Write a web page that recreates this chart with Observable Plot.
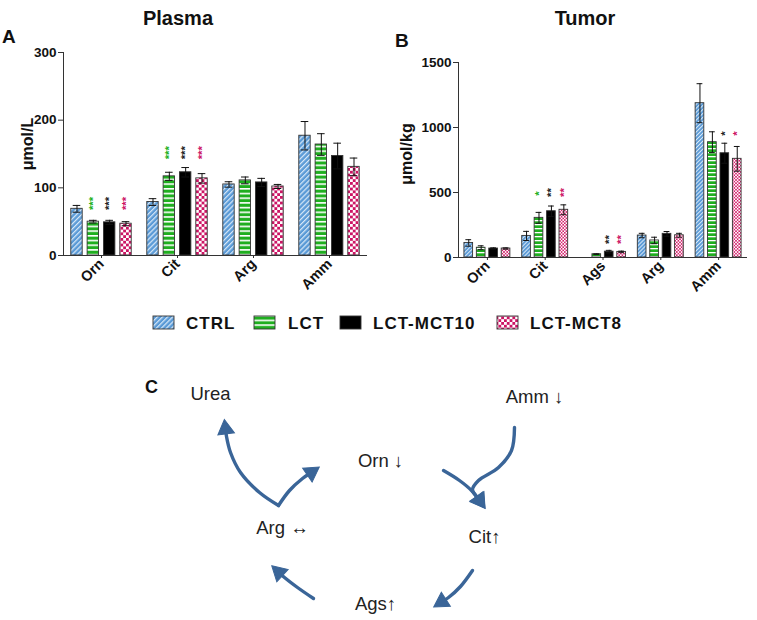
<!DOCTYPE html>
<html>
<head>
<meta charset="utf-8">
<script src="https://cdn.jsdelivr.net/npm/d3@7"></script>
<script src="https://cdn.jsdelivr.net/npm/@observablehq/plot@0.6"></script>
<style>
  body { margin: 0; background: #fff; }
  #fig { position: relative; width: 757px; height: 620px; background: #fff; font-family: 'Liberation Sans', Arial, 'DejaVu Sans', sans-serif; overflow: hidden; }
  .abs { position: absolute; }
</style>
</head>
<body>
<div id="fig">
  <div id="plasma" class="abs" style="left:0;top:0"></div>
  <div id="tumor" class="abs" style="left:380px;top:0"></div>
  <div id="pathway" class="abs" style="left:0;top:340px"></div>
  <svg id="overlay" class="abs" width="757" height="620" style="left:0;top:0;pointer-events:none">
    <defs>
      <pattern id="pCtrlA" width="3.6" height="3.6" patternUnits="userSpaceOnUse" patternTransform="rotate(45)">
        <rect width="3.6" height="3.6" fill="#5a9ad6"/><rect width="1.2" height="3.6" fill="#d9e9f8"/>
      </pattern>
      <pattern id="pLctA" width="6" height="4.7" patternUnits="userSpaceOnUse">
        <rect width="6" height="4.7" fill="#1fae1f"/><rect y="0" width="6" height="1.6" fill="#ffffff"/>
      </pattern>
      <pattern id="pMct8A" width="5.6" height="5.6" patternUnits="userSpaceOnUse">
        <rect width="5.6" height="5.6" fill="#ffffff"/><rect width="2.8" height="2.8" fill="#cc1464"/><rect x="2.8" y="2.8" width="2.8" height="2.8" fill="#cc1464"/>
      </pattern>
      <pattern id="pCtrlB" width="2.8" height="2.8" patternUnits="userSpaceOnUse" patternTransform="rotate(45)">
        <rect width="2.8" height="2.8" fill="#5a9ad6"/><rect width="1" height="2.8" fill="#d9e9f8"/>
      </pattern>
      <pattern id="pLctB" width="6" height="4" patternUnits="userSpaceOnUse">
        <rect width="6" height="4" fill="#1fae1f"/><rect y="0" width="6" height="1.3" fill="#ffffff"/>
      </pattern>
      <pattern id="pMct8B" width="3.2" height="3.2" patternUnits="userSpaceOnUse">
        <rect width="3.2" height="3.2" fill="#ffffff"/><rect width="1.6" height="1.6" fill="#d4246e"/><rect x="1.6" y="1.6" width="1.6" height="1.6" fill="#d4246e"/>
      </pattern>
    </defs>
    <g font-family="'Liberation Sans', Arial, sans-serif" fill="#111">
      <text x="178" y="25" font-size="20" font-weight="bold" text-anchor="middle">Plasma</text>
      <text x="585" y="25" font-size="20" font-weight="bold" text-anchor="middle">Tumor</text>
      <text x="2" y="43" font-size="19" font-weight="bold">A</text>
      <text x="395" y="47" font-size="19" font-weight="bold">B</text>
      <text x="145" y="393" font-size="18" font-weight="bold">C</text>
      <text transform="translate(33,144) rotate(-90)" font-size="16" font-weight="bold" text-anchor="middle">μmol/L</text>
      <text transform="translate(412,154) rotate(-90)" font-size="16" font-weight="bold" text-anchor="middle">μmol/kg</text>
    </g>
    <g id="legend" font-family="'Liberation Sans', Arial, sans-serif" font-size="17" font-weight="bold" fill="#111" letter-spacing="1"></g>
  </svg>
</div>
<script>
// ---------- data ----------
const seriesNames = ["CTRL", "LCT", "LCT-MCT10", "LCT-MCT8"];

// Panel A: plasma (µmol/L)
const plasmaGroups = ["Orn", "Cit", "Arg", "Amm"];
const plasmaCTRL     = [69, 79, 105, 177];
const plasmaCTRLErr  = [5, 5, 4, 21];
const plasmaLCT      = [50, 117, 111, 164];
const plasmaLCTErr   = [2, 6, 5, 16];
const plasmaMCT10    = [49, 123, 108, 147];
const plasmaMCT10Err = [3, 7, 6, 19];
const plasmaMCT8     = [47, 114, 102, 131];
const plasmaMCT8Err  = [3, 7, 3, 13];
const plasmaTicks = [0, 100, 200, 300];
const plasmaStars = [
  {group: "Orn", series: "LCT", y: 77, text: "***"},
  {group: "Orn", series: "LCT-MCT10", y: 77, text: "***"},
  {group: "Orn", series: "LCT-MCT8", y: 77, text: "***"},
  {group: "Cit", series: "LCT", y: 152, text: "***"},
  {group: "Cit", series: "LCT-MCT10", y: 152, text: "***"},
  {group: "Cit", series: "LCT-MCT8", y: 152, text: "***"}
];

// Panel B: tumor (µmol/kg)
const tumorGroups = ["Orn", "Cit", "Ags", "Arg", "Amm"];
const tumorCTRL     = [112, 166, null, 169, 1187];
const tumorCTRLErr  = [25, 35, null, 17, 150];
const tumorLCT      = [75, 305, 25, 131, 887];
const tumorLCTErr   = [15, 42, 3, 25, 80];
const tumorMCT10    = [69, 356, 45, 182, 802];
const tumorMCT10Err = [5, 40, 10, 18, 77];
const tumorMCT8     = [69, 367, 43, 171, 759];
const tumorMCT8Err  = [5, 38, 6, 15, 95];
const tumorTicks = [0, 500, 1000, 1500];
const tumorStars = [
  {group: "Cit", series: "LCT", y: 492, text: "*"},
  {group: "Cit", series: "LCT-MCT10", y: 500, text: "**"},
  {group: "Cit", series: "LCT-MCT8", y: 500, text: "**"},
  {group: "Ags", series: "LCT-MCT10", y: 138, text: "**"},
  {group: "Ags", series: "LCT-MCT8", y: 138, text: "**"},
  {group: "Amm", series: "LCT-MCT10", y: 953, text: "*"},
  {group: "Amm", series: "LCT-MCT8", y: 953, text: "*"}
];

// Panel C: urea-cycle diagram (diagram coordinates)
const pathwayNodes = [
  {label: "Urea",  x: 210, y: 394},
  {label: "Amm ↓", x: 534, y: 397},
  {label: "Orn ↓", x: 380, y: 461},
  {label: "Arg ↔", x: 282, y: 528},
  {label: "Cit↑",  x: 484, y: 537},
  {label: "Ags↑",  x: 375, y: 604}
];
// each path ends at the arrow tip
const pathwayArrows = [
  {id: "Arg-Urea", path: [[278, 505], [259, 492], [240, 472], [230, 452], [226, 436], [224, 420]]},
  {id: "Arg-Orn",  path: [[278, 505], [289, 490], [302, 478], [318, 467]]},
  {id: "Orn-Cit",  path: [[443, 470], [459, 480], [472, 491], [484, 507]]},
  {id: "Amm-Cit",  path: [[514, 427], [511, 450], [498, 467], [478, 480], [472, 489], [484, 507]]},
  {id: "Cit-Ags",  path: [[472, 570], [460, 586], [448, 597], [434, 606]]},
  {id: "Ags-Arg",  path: [[313, 598], [297, 587], [284, 577], [272, 566]]}
];

// ---------- styling ----------
const FONT = "'Liberation Sans', Arial, 'DejaVu Sans', sans-serif";
const STEP = 0.215, BW = 0.15, CAP = 0.05;
const starColors = {"CTRL": "#5a9ad6", "LCT": "#22b022", "LCT-MCT10": "#222222", "LCT-MCT8": "#cc1464"};
const ARROW = "#3a6598";

function barChart(cfg) {
  const rows = [];
  cfg.groups.forEach((g, gi) => cfg.values.forEach((vals, si) => {
    const v = vals[gi];
    if (v == null) return;
    const cx = gi + (si - 1.5) * STEP;
    rows.push({group: g, series: seriesNames[si], si, cx, x1: cx - BW / 2, x2: cx + BW / 2, v, e: cfg.errors[si][gi]});
  }));
  const starRows = cfg.stars.map(s => {
    const gi = cfg.groups.indexOf(s.group), si = seriesNames.indexOf(s.series);
    return {...s, cx: gi + (si - 1.5) * STEP, color: starColors[s.series]};
  });
  return Plot.plot({
    width: cfg.width, height: cfg.height,
    marginLeft: cfg.ml, marginRight: cfg.mr, marginTop: cfg.mt, marginBottom: cfg.mb,
    x: {domain: [-0.5, cfg.groups.length - 0.5]},
    y: {domain: [0, cfg.yMax]},
    color: {type: "identity"},
    style: {fontFamily: FONT, fontSize: "13px", color: "#111", background: "transparent", overflow: "visible"},
    marks: [
      ...seriesNames.map((s, si) => Plot.rectY(rows.filter(d => d.si === si), {
        x1: "x1", x2: "x2", y: "v", fill: cfg.fills[si], stroke: "#333", strokeWidth: 0.9
      })),
      Plot.ruleX(rows, {x: "cx", y1: d => d.v - d.e, y2: d => d.v + d.e, stroke: "#111", strokeWidth: 1}),
      Plot.ruleY(rows, {y: d => d.v + d.e, x1: d => d.cx - CAP, x2: d => d.cx + CAP, stroke: "#111", strokeWidth: 1}),
      Plot.ruleY(rows, {y: d => d.v - d.e, x1: d => d.cx - CAP, x2: d => d.cx + CAP, stroke: "#111", strokeWidth: 1}),
      Plot.text(starRows, {x: "cx", y: "y", text: "text", fill: "color", rotate: -90, fontSize: 11.5, fontWeight: "bold"}),
      Plot.ruleY([0], {stroke: "#333", strokeWidth: 1}),
      Plot.ruleX([-0.5], {stroke: "#333", strokeWidth: 1}),
      Plot.axisY({ticks: cfg.yTicks, tickFormat: d => String(d), tickSize: 5, tickPadding: 2, fontWeight: "bold", fontSize: 13.5, label: null, stroke: "#333"}),
      Plot.axisX({ticks: cfg.groups.map((g, i) => i), tickFormat: i => cfg.groups[i], tickRotate: -45, tickSize: 3, tickPadding: 3, fontWeight: "bold", fontSize: 14.5, label: null, stroke: "#333"})
    ]
  });
}

document.getElementById("plasma").append(barChart({
  groups: plasmaGroups,
  values: [plasmaCTRL, plasmaLCT, plasmaMCT10, plasmaMCT8],
  errors: [plasmaCTRLErr, plasmaLCTErr, plasmaMCT10Err, plasmaMCT8Err],
  stars: plasmaStars, yMax: 300, yTicks: plasmaTicks,
  fills: ["url(#pCtrlA)", "url(#pLctA)", "#000", "url(#pMct8A)"],
  width: 380, height: 300, ml: 63, mr: 13, mt: 52, mb: 45
}));

document.getElementById("tumor").append(barChart({
  groups: tumorGroups,
  values: [tumorCTRL, tumorLCT, tumorMCT10, tumorMCT8],
  errors: [tumorCTRLErr, tumorLCTErr, tumorMCT10Err, tumorMCT8Err],
  stars: tumorStars, yMax: 1500, yTicks: tumorTicks,
  fills: ["url(#pCtrlB)", "url(#pLctB)", "#000", "url(#pMct8B)"],
  width: 377, height: 300, ml: 78, mr: 10, mt: 62, mb: 43
}));

// legend
const legendItems = [
  {name: "CTRL", fill: "url(#pCtrlA)", sx: 153, tx: 186},
  {name: "LCT", fill: "url(#pLctA)", sx: 254, tx: 288},
  {name: "LCT-MCT10", fill: "#000", sx: 340, tx: 373},
  {name: "LCT-MCT8", fill: "url(#pMct8A)", sx: 497, tx: 530}
];
const lg = d3.select("#legend");
legendItems.forEach(d => {
  lg.append("rect").attr("x", d.sx).attr("y", 316).attr("width", 21).attr("height", 13)
    .attr("fill", d.fill).attr("stroke", "#333").attr("stroke-width", 0.9);
  lg.append("text").attr("x", d.tx).attr("y", 329).text(d.name);
});

// panel C: lines end before the tip, filled triangle heads at the tip
const HEAD = 14;
const lineRows = [], headRows = [];
pathwayArrows.forEach(a => {
  const p = a.path, n = p.length;
  const [tx, ty] = p[n - 1], [px, py] = p[n - 2];
  const len = Math.hypot(tx - px, ty - py), ux = (tx - px) / len, uy = (ty - py) / len;
  p.slice(0, n - 1).forEach(([x, y]) => lineRows.push({id: a.id, x, y}));
  lineRows.push({id: a.id, x: tx - ux * (HEAD - 3), y: ty - uy * (HEAD - 3)});
  headRows.push({id: a.id, x: tx - ux * HEAD * 0.62, y: ty - uy * HEAD * 0.62, angle: Math.atan2(uy, ux) * 180 / Math.PI + 90});
});

document.getElementById("pathway").append(Plot.plot({
  width: 757, height: 280, margin: 0,
  x: {domain: [0, 757], axis: null},
  y: {domain: [340, 620], range: [0, 280], axis: null},
  style: {fontFamily: FONT, background: "transparent", overflow: "visible"},
  marks: [
    Plot.line(lineRows, {x: "x", y: "y", z: "id", curve: "catmull-rom", stroke: ARROW, strokeWidth: 3.4, strokeLinecap: "round"}),
    Plot.dot(headRows, {x: "x", y: "y", symbol: "triangle", rotate: "angle", r: 6.2, fill: ARROW, stroke: ARROW, strokeWidth: 1}),
    Plot.text(pathwayNodes, {x: "x", y: "y", text: "label", fontSize: 18.5, fill: "#222", textAnchor: "middle"})
  ]
}));
</script>
</body>
</html>
